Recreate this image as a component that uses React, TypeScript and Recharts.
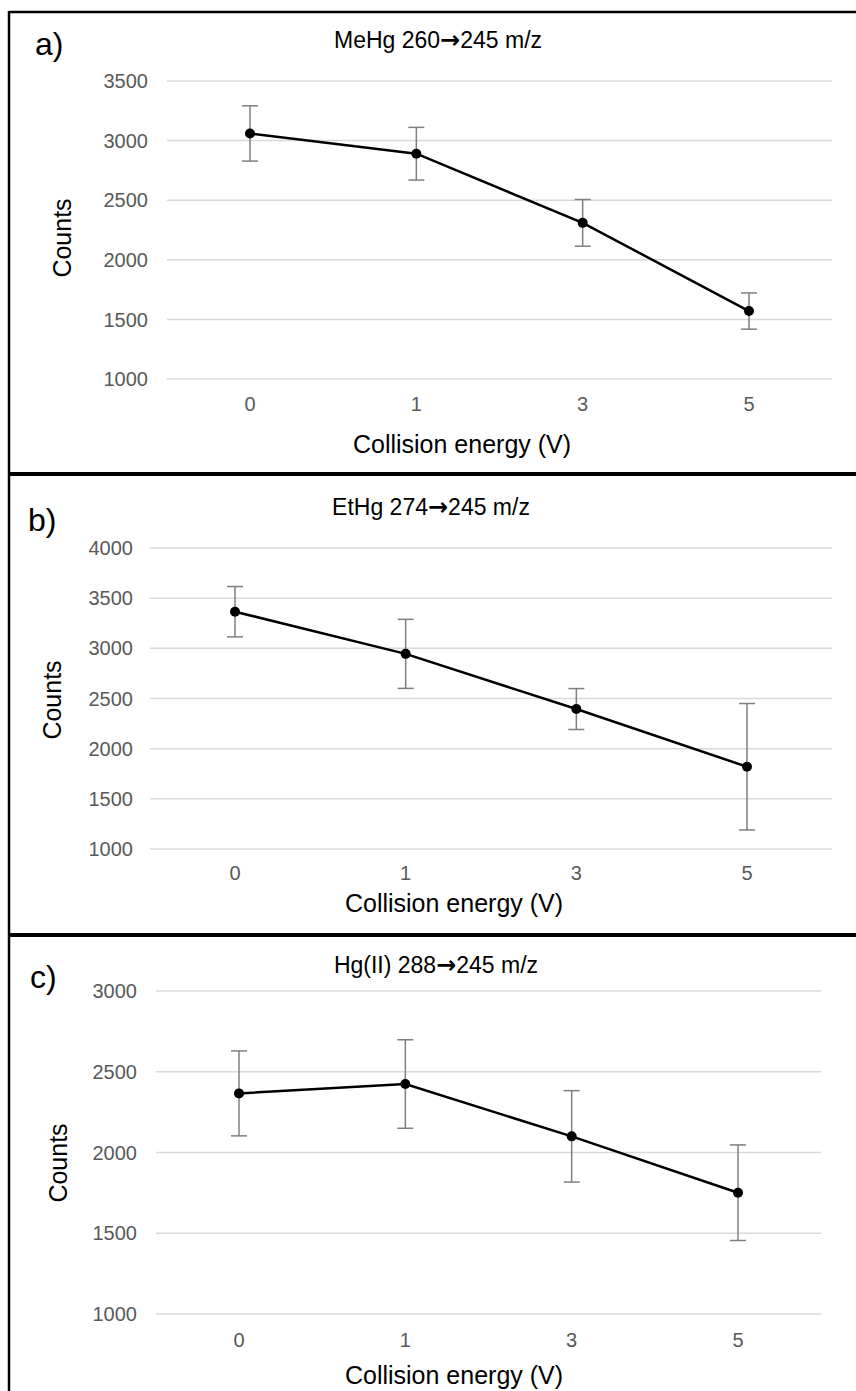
import React from 'react';
import { LineChart, Line, XAxis, YAxis, CartesianGrid, ErrorBar } from 'recharts';

// collision energies (V)
const energies = ['0', '1', '3', '5'];

// a) MeHg 260 -> 245 m/z
const meHgCounts = [3060, 2890, 2310, 1570];
const meHgErr = [232, 221, 196, 152];

// b) EtHg 274 -> 245 m/z
const etHgCounts = [3365, 2945, 2395, 1820];
const etHgErr = [251, 344, 204, 630];

// c) Hg(II) 288 -> 245 m/z
const hgCounts = [2366, 2424, 2100, 1751];
const hgErr = [263, 274, 283, 296];

const ticksA = [1000, 1500, 2000, 2500, 3000, 3500];
const ticksB = [1000, 1500, 2000, 2500, 3000, 3500, 4000];
const ticksC = [1000, 1500, 2000, 2500, 3000];

const FONT = '"Liberation Sans", Arial, sans-serif';

const buildRows = (counts: number[], errs: number[]) =>
  energies.map((e, i) => ({ energy: e, counts: counts[i], err: errs[i] }));

interface PanelProps {
  rows: { energy: string; counts: number; err: number }[];
  ticks: number[];
  top: number;
  marginTop: number;
  marginBottom: number;
  marginRight: number;
  axisWidth: number;
  pad: number;
  yTickMargin: number;
  xTickMargin: number;
}

const Panel: React.FC<PanelProps> = ({
  rows, ticks, top, marginTop, marginBottom, marginRight, axisWidth, pad, yTickMargin, xTickMargin
}) => (
  <div style={{ position: 'absolute', left: 0, top, width: 856, height: 440 }}>
    <LineChart
      width={856}
      height={440}
      data={rows}
      margin={{ top: marginTop, right: marginRight, bottom: marginBottom, left: 0 }}
    >
      <CartesianGrid vertical={false} stroke="#d9d9d9" strokeWidth={1.5} />
      <XAxis
        dataKey="energy"
        padding={{ left: pad, right: pad }}
        axisLine={false}
        tickLine={false}
        tickMargin={xTickMargin}
        height={30}
        tick={{ fontSize: 20, fill: '#595959', fontFamily: FONT }}
      />
      <YAxis
        width={axisWidth}
        domain={[ticks[0], ticks[ticks.length - 1]]}
        ticks={ticks}
        axisLine={false}
        tickLine={false}
        tickMargin={yTickMargin}
        tick={{ fontSize: 20, fill: '#595959', fontFamily: FONT }}
      />
      <Line
        type="linear"
        dataKey="counts"
        stroke="#000"
        strokeWidth={2.5}
        dot={{ r: 5, fill: '#000', stroke: '#000', strokeWidth: 0 }}
        isAnimationActive={false}
      >
        <ErrorBar
          dataKey="err"
          direction="y"
          width={8}
          stroke="#7f7f7f"
          strokeWidth={1.5}
          isAnimationActive={false}
        />
      </Line>
    </LineChart>
  </div>
);

const Overlay: React.FC = () => {
  const label = (text: string, x: number, y: number) => (
    <text x={x} y={y} fontSize={32} fontFamily={FONT} fill="#000">{text}</text>
  );
  // title: species, precursor -> product, with a heavier arrow glyph
  const title = (species: string, from: string, to: string, x: number, y: number) => (
    <text x={x} y={y} fontSize={23} fontFamily={FONT} fill="#000" textAnchor="middle">
      {`${species} ${from}`}
      <tspan fontFamily='"DejaVu Sans", sans-serif' fontWeight="bold" fontSize={24}>{'\u2192'}</tspan>
      {`${to} m/z`}
    </text>
  );
  const xTitle = (x: number, y: number) => (
    <text x={x} y={y} fontSize={25} fontFamily={FONT} fill="#000" textAnchor="middle">Collision energy (V)</text>
  );
  const yTitle = (x: number, y: number) => (
    <text transform={`translate(${x},${y}) rotate(-90)`} dy={9} fontSize={25} fontFamily={FONT} fill="#000" textAnchor="middle">Counts</text>
  );
  return (
    <svg width={856} height={1391} style={{ position: 'absolute', left: 0, top: 0, pointerEvents: 'none' }}>
      {/* frame and dividers */}
      <line x1={9} y1={12} x2={856} y2={12} stroke="#000" strokeWidth={2.5} />
      <line x1={9} y1={11} x2={9} y2={1391} stroke="#000" strokeWidth={2.5} />
      <line x1={9} y1={474} x2={856} y2={474} stroke="#000" strokeWidth={4} />
      <line x1={9} y1={935} x2={856} y2={935} stroke="#000" strokeWidth={4} />

      {label('a)', 35, 55)}
      {title('MeHg', '260', '245', 438, 48)}
      {xTitle(462, 453)}
      {yTitle(62, 238)}

      {label('b)', 28, 531)}
      {title('EtHg', '274', '245', 431, 515)}
      {xTitle(454, 912)}
      {yTitle(52, 700)}

      {label('c)', 30, 988)}
      {title('Hg(II)', '288', '245', 436, 973)}
      {xTitle(454, 1384)}
      {yTitle(58, 1163)}
    </svg>
  );
};

export default function App() {
  return (
    <div style={{ position: 'absolute', left: 0, top: 0, width: 856, height: 1391, background: '#fff', overflow: 'hidden' }}>
      <Panel
        rows={buildRows(meHgCounts, meHgErr)}
        ticks={ticksA}
        top={0}
        marginTop={81}
        marginBottom={31}
        marginRight={24}
        axisWidth={167}
        pad={83}
        yTickMargin={13}
        xTickMargin={12}
      />
      <Panel
        rows={buildRows(etHgCounts, etHgErr)}
        ticks={ticksB}
        top={460}
        marginTop={88}
        marginBottom={21}
        marginRight={24}
        axisWidth={150}
        pad={85}
        yTickMargin={11}
        xTickMargin={11}
      />
      <Panel
        rows={buildRows(hgCounts, hgErr)}
        ticks={ticksC}
        top={935}
        marginTop={56}
        marginBottom={31}
        marginRight={35}
        axisWidth={156}
        pad={83}
        yTickMargin={13}
        xTickMargin={13}
      />
      <Overlay />
    </div>
  );
}
